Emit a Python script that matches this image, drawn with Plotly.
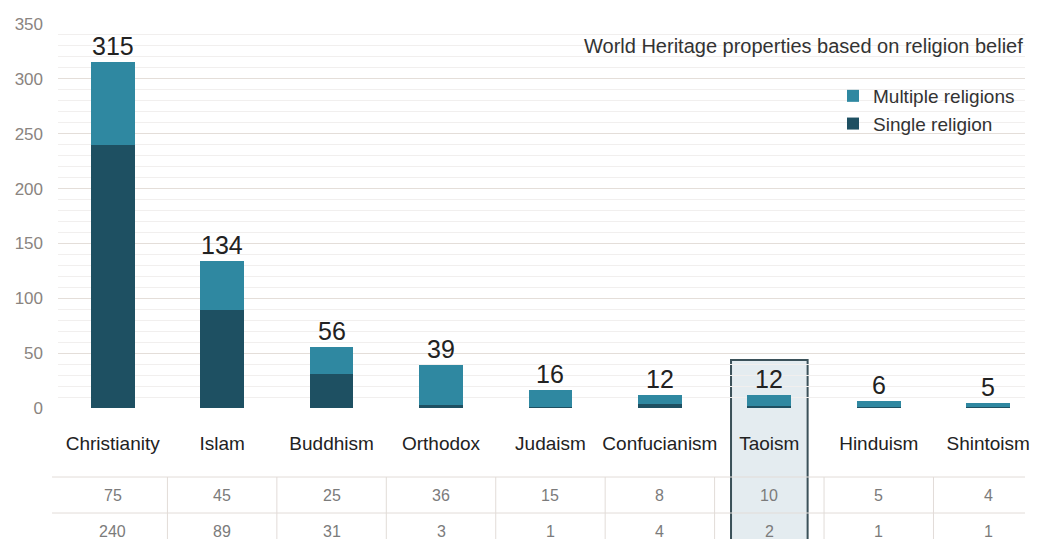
import plotly.graph_objects as go

categories = ["Christianity", "Islam", "Buddhism", "Orthodox", "Judaism",
              "Confucianism", "Taoism", "Hinduism", "Shintoism"]
multiple_religions = [75, 45, 25, 36, 15, 8, 10, 5, 4]
single_religion = [240, 89, 31, 3, 1, 4, 2, 1, 1]
totals = [m + s for m, s in zip(multiple_religions, single_religion)]
y_ticks = [0, 50, 100, 150, 200, 250, 300, 350]
highlight = "Taoism"
title_text = "World Heritage properties based on religion belief"

DARK = "#1e5062"
LIGHT = "#2f88a1"
FONT = "Arial, Liberation Sans, sans-serif"

# the page body has an 8px margin on every side; keep the figure inside the viewport
OFF = 8
W, H = 1038 - 2 * OFF, 547 - 2 * OFF
PLOT_L, PLOT_T, PLOT_B = 58, 24, 408          # page pixels
ML, MR = PLOT_L - OFF, 0
MT = PLOT_T - OFF
MB = H - (PLOT_B - OFF)
plot_h = PLOT_B - PLOT_T
plot_w = W - ML - MR
SLOT = 110.0                                   # pixels per category


def py(px):
    """page pixel y -> paper y"""
    return (PLOT_B - px) / plot_h


def pxx(px):
    """page pixel x -> paper x"""
    return (px - PLOT_L) / plot_w


fig = go.Figure()
fig.add_trace(go.Bar(x=categories, y=single_religion, name="Single religion",
                     marker=dict(color=DARK, line=dict(width=0)),
                     width=0.4, legendgroup="s"))
fig.add_trace(go.Bar(x=categories, y=multiple_religions, name="Multiple religions",
                     marker=dict(color=LIGHT, line=dict(width=0)),
                     width=0.4, legendgroup="m"))

annotations = []
for c, t in zip(categories, totals):
    annotations.append(dict(x=c, y=t, xref="x", yref="y", text=str(t),
                            showarrow=False, yanchor="bottom", yshift=0,
                            font=dict(size=25, color="#222222", family=FONT)))

# table rows
for row, yy in ((multiple_religions, py(495)), (single_religion, py(531))):
    for c, v in zip(categories, row):
        annotations.append(dict(x=c, y=yy, xref="x", yref="paper", text=str(v),
                                showarrow=False, yanchor="middle",
                                font=dict(size=16, color="#7b7b7b", family=FONT)))

annotations.append(dict(x=1.0, xref="paper", xanchor="right", xshift=0,
                        y=py(46), yref="paper",
                        yanchor="middle", text=title_text, showarrow=False,
                        font=dict(size=20, color="#333333", family=FONT)))

shapes = []
# highlight box
hi = categories.index(highlight)
shapes.append(dict(type="rect", xref="x", yref="paper", x0=hi - 0.35, x1=hi + 0.35,
                   y0=py(545), y1=py(360), layer="below",
                   fillcolor="#e4ecf0", line=dict(color="#3b5159", width=2)))
# table lines
for yy in (py(477), py(513)):
    shapes.append(dict(type="line", xref="paper", yref="paper",
                       x0=pxx(52), x1=1.0, y0=yy, y1=yy,
                       line=dict(color="#e2dcd8", width=1)))
for k in range(len(categories) - 1):
    shapes.append(dict(type="line", xref="x", yref="paper",
                       x0=k + 0.5, x1=k + 0.5, y0=py(477), y1=py(545),
                       line=dict(color="#e2dcd8", width=1)))

fig.update_layout(
    width=W, height=H,
    margin=dict(l=ML, r=MR, t=MT, b=MB, pad=0),
    paper_bgcolor="white", plot_bgcolor="white",
    barmode="stack",
    font=dict(family=FONT),
    showlegend=True,
    legend=dict(x=pxx(837), xanchor="left", y=py(77), yanchor="top",
                traceorder="reversed", tracegroupgap=3,
                font=dict(size=19, color="#333333", family=FONT),
                bgcolor="rgba(0,0,0,0)"),
    annotations=annotations,
    shapes=shapes,
    xaxis=dict(range=[-0.5, plot_w / SLOT - 0.5], showgrid=False, zeroline=False,
               showline=False, ticks="", ticklabelstandoff=22,
               tickfont=dict(size=19, color="#222222", family=FONT)),
    yaxis=dict(range=[0, 350], tickvals=y_ticks, showgrid=True, gridcolor="#e4ded9",
               gridwidth=1, zeroline=False, showline=False, ticks="",
               ticklabelstandoff=14,
               tickfont=dict(size=17, color="#8a8480", family=FONT),
               minor=dict(dtick=10, showgrid=True, gridcolor="#f1efee", gridwidth=1)),
)

fig.write_html("out.html")
